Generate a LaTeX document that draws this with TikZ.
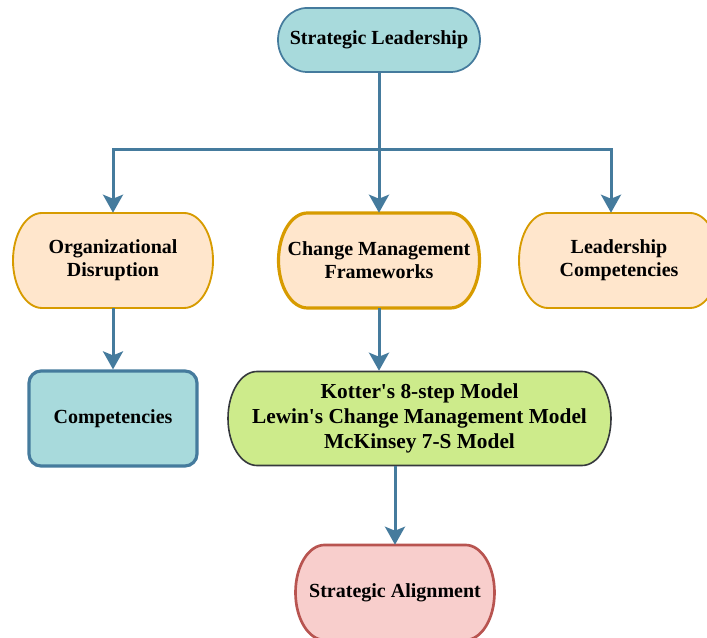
\documentclass[tikz,border=0pt]{standalone}
\usepackage{fontspec}
\setmainfont{Liberation Serif}
\usepackage{tikz}
\usetikzlibrary{arrows.meta}

\definecolor{arrowblue}{HTML}{457B9D}
\definecolor{tealfill}{HTML}{A8DADC}
\definecolor{peach}{HTML}{FFE6CC}
\definecolor{gold}{HTML}{D79B00}
\definecolor{lime}{HTML}{CDEB8B}
\definecolor{slate}{HTML}{36393D}
\definecolor{rose}{HTML}{F8CECC}
\definecolor{brick}{HTML}{B85450}

% capsule outline: style, centre x, centre y, half width, half height
\newcommand{\capsule}[5]{%
  \draw[#1] ({#2-#4+29},{#3-#5}) -- ({#2+#4-29},{#3-#5})
    arc[start angle=-90,end angle=90,x radius=29,y radius=#5]
    -- ({#2-#4+29},{#3+#5})
    arc[start angle=90,end angle=270,x radius=29,y radius=#5] -- cycle;}

\tikzset{
  lbl/.style={font=\bfseries\fontsize{15}{17.3}\selectfont, align=center,
    inner sep=0pt, minimum height=71.25pt},
  flow/.style={draw=arrowblue, line width=2.25pt,
    -{Stealth[length=13.5pt,width=15pt,inset=3pt]}},
  tealcap/.style={fill=tealfill, draw=arrowblue, line width=1.3pt},
  peachcap/.style={fill=peach, draw=gold, line width=1.4pt},
  limecap/.style={fill=lime, draw=slate, line width=1.2pt},
  rosecap/.style={fill=rose, draw=brick, line width=2pt}
}

\begin{document}
\begin{tikzpicture}[x=0.75pt,y=0.75pt]
  \useasboundingbox (0,0) rectangle (707,638);
  \clip (0,0) rectangle (707,638);

  % top
  \capsule{tealcap}{379}{598}{101}{32}
  \node[lbl, minimum height=48pt] (lead) at (379,598) {Strategic Leadership};

  % second row
  \capsule{peachcap}{113}{377.5}{100}{47.5}
  \node[lbl] (org) at (113,377.5) {Organizational\\Disruption};
  \capsule{peachcap, line width=2.4pt}{379}{377.5}{100.5}{47.5}
  \node[lbl] (chg) at (379,377.5) {Change Management\\Frameworks};
  \capsule{peachcap}{619}{377.5}{100}{47.5}
  \node[lbl] (ldr) at (619,377.5) {Leadership\\Competencies};

  % third row
  \node[lbl, fill=tealfill, draw=arrowblue, line width=2.4pt, rounded corners=9pt,
    minimum width=126pt] (comp) at (113,219.5) {Competencies};
  \capsule{limecap}{419.5}{219.5}{191.5}{47}
  \node[lbl, font=\bfseries\fontsize{16}{18.8}\selectfont] (models) at (419.5,219.5)
    {Kotter\textquotesingle s 8-step Model\\Lewin\textquotesingle s Change Management Model\\McKinsey 7-S Model};

  % bottom
  \capsule{rosecap}{395}{45.5}{99.5}{47.5}
  \node[lbl] (align) at (395,45.5) {Strategic Alignment};

  % connectors
  \coordinate (split) at (379,488);
  \draw[flow] (lead.south) -- (chg.north);
  \draw[flow] (split) -| (org.north);
  \draw[flow] (split) -| ([xshift=-6pt]ldr.north);
  \draw[flow] (org.south) -- (comp.north);
  \draw[flow] (chg.south) -- (chg.south |- models.north);
  \draw[flow] (align.north |- models.south) -- (align.north);
\end{tikzpicture}
\end{document}
